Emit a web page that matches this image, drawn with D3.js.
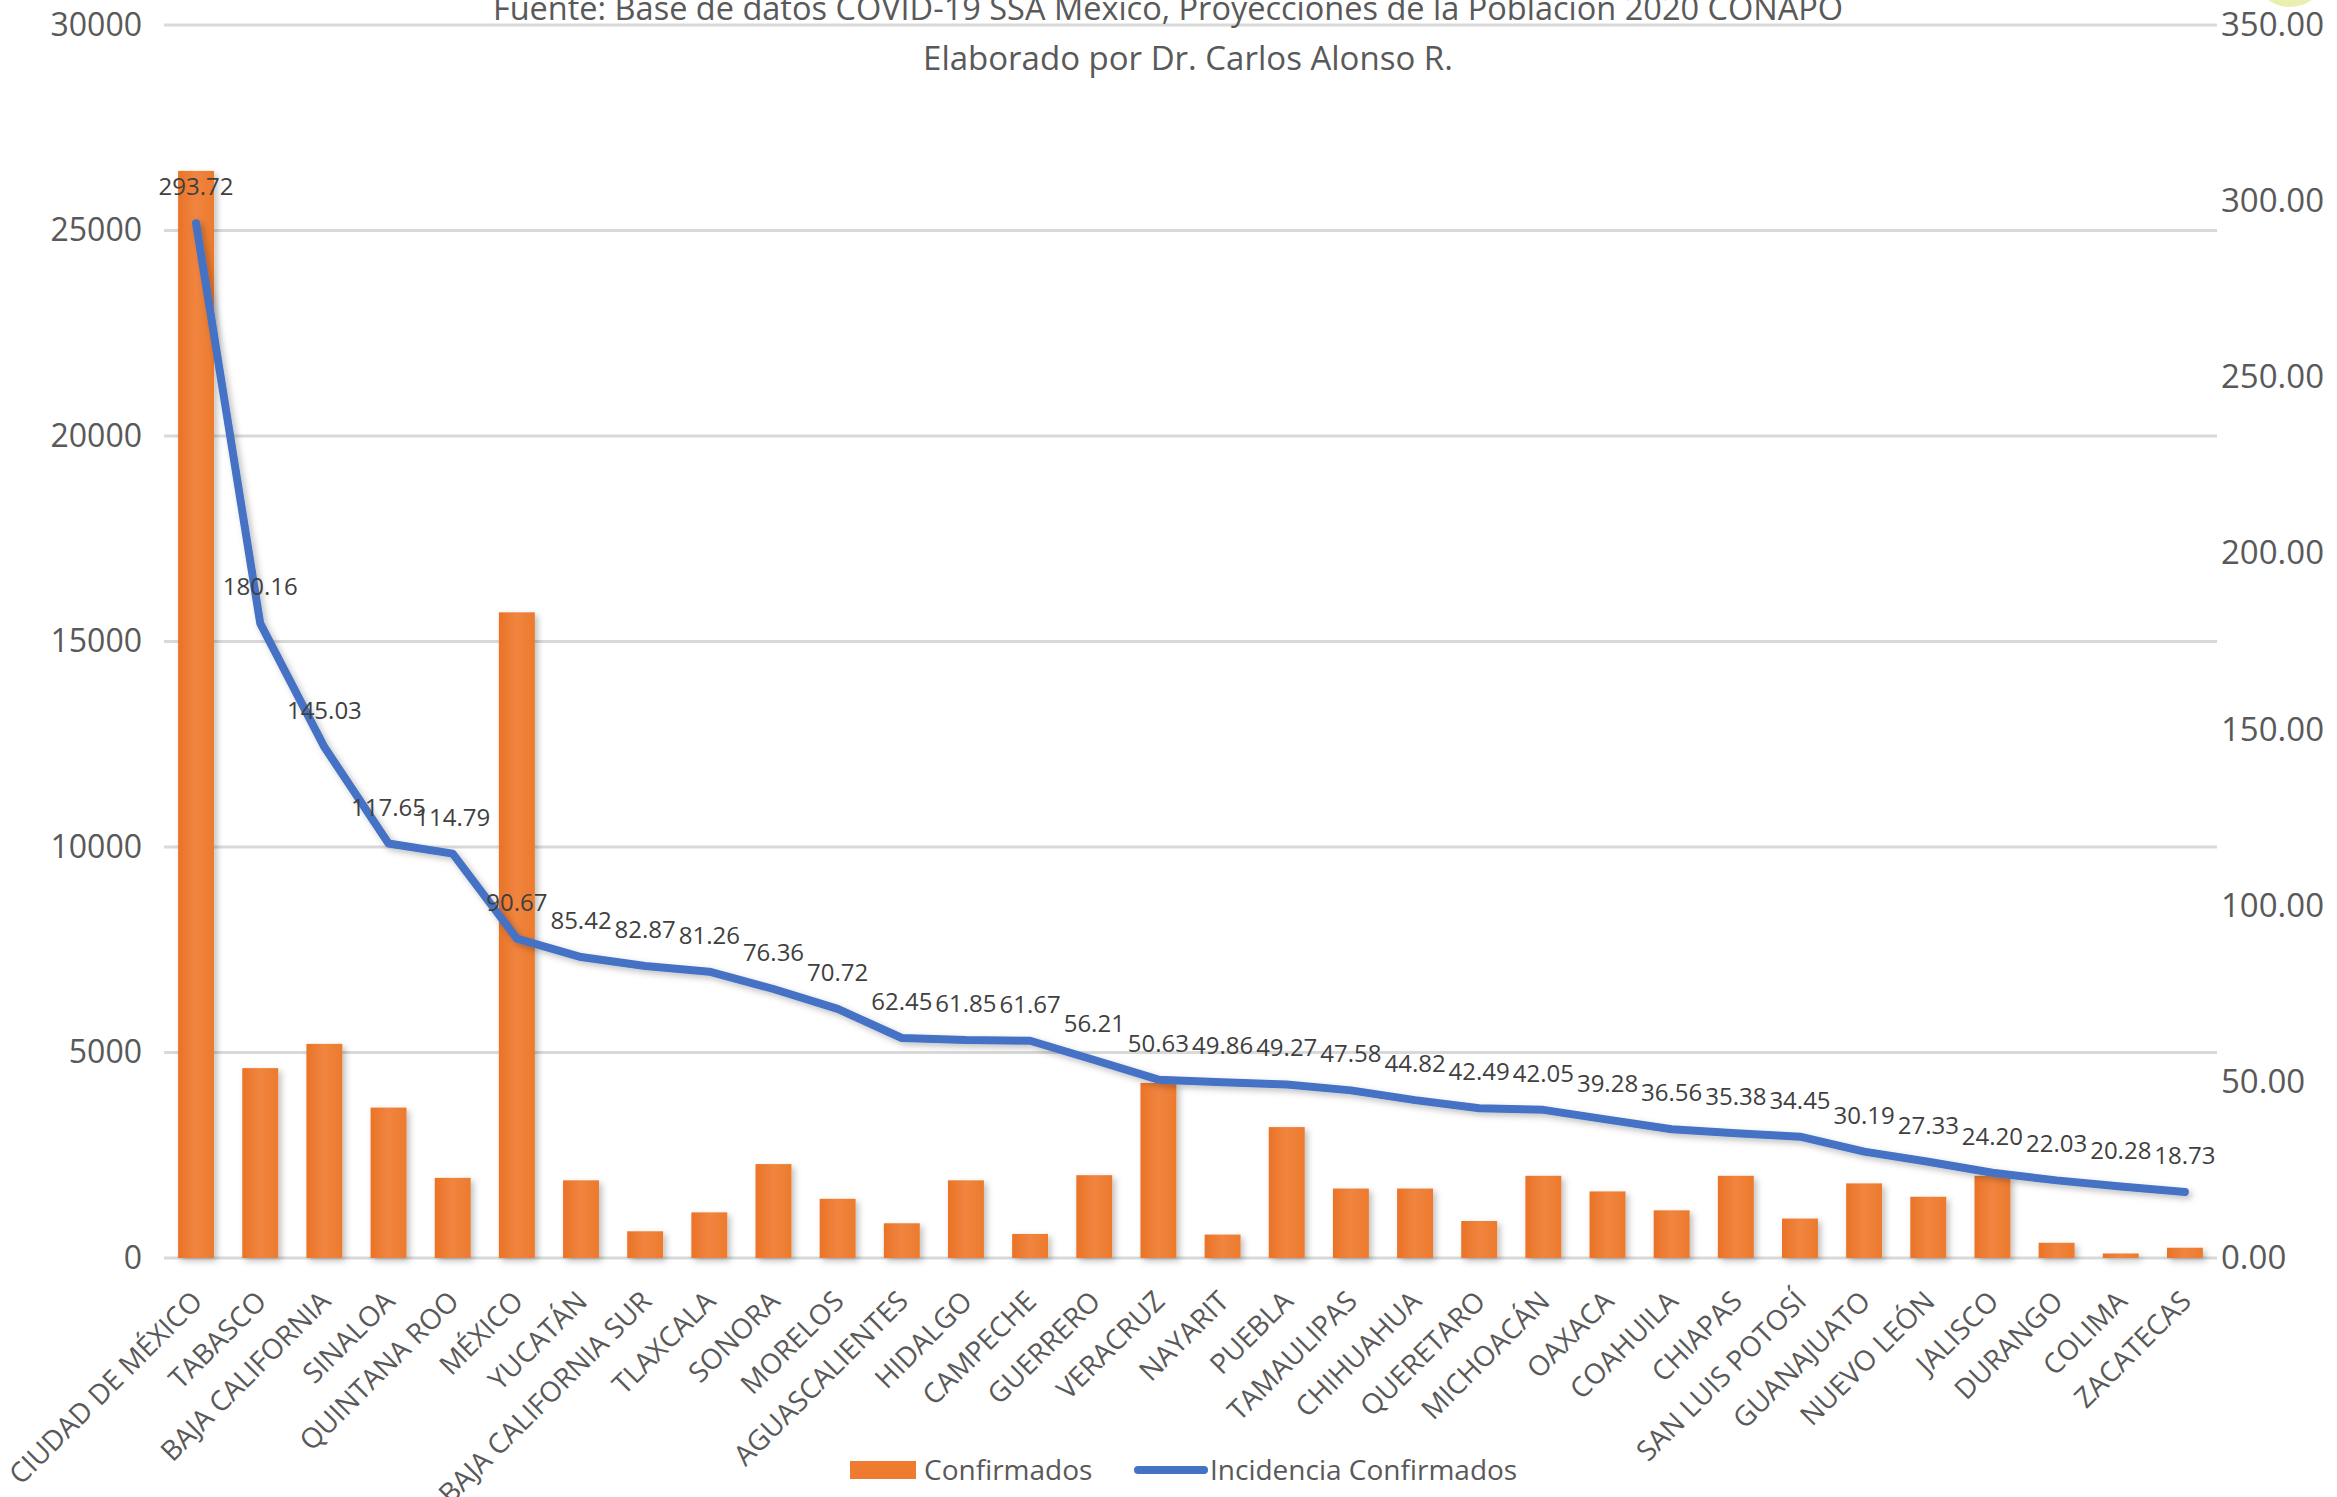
<!DOCTYPE html>
<html lang="es">
<head>
<meta charset="utf-8">
<title>Confirmados e incidencia por entidad</title>
<script src="https://cdn.jsdelivr.net/npm/d3@7"></script>
<style>
  html, body { margin: 0; padding: 0; background: #fff; }
  #chart { width: 2337px; height: 1497px; overflow: hidden; }
  text { font-family: "Open Sans", "DejaVu Sans", sans-serif; }
</style>
</head>
<body>
<div id="chart"></div>
<script>
const estados = [
  'CIUDAD DE MÉXICO', 'TABASCO', 'BAJA CALIFORNIA', 'SINALOA', 'QUINTANA ROO',
  'MÉXICO', 'YUCATÁN', 'BAJA CALIFORNIA SUR', 'TLAXCALA', 'SONORA', 'MORELOS',
  'AGUASCALIENTES', 'HIDALGO', 'CAMPECHE', 'GUERRERO', 'VERACRUZ', 'NAYARIT',
  'PUEBLA', 'TAMAULIPAS', 'CHIHUAHUA', 'QUERETARO', 'MICHOACÁN', 'OAXACA',
  'COAHUILA', 'CHIAPAS', 'SAN LUIS POTOSÍ', 'GUANAJUATO', 'NUEVO LEÓN',
  'JALISCO', 'DURANGO', 'COLIMA', 'ZACATECAS',
];

// casos confirmados (estimados de la gráfica)
const confirmados = [
  26450, 4620, 5210, 3660, 1950, 15710, 1890, 650, 1110, 2285, 1440,
  845, 1890, 585, 2015, 4260, 570, 3185, 1690, 1690, 900, 2000, 1620,
  1160, 2000, 960, 1815, 1490, 2000, 370, 110, 250,
];

// incidencia por 100 mil habitantes
const incidencia = [
  293.72, 180.16, 145.03, 117.65, 114.79, 90.67, 85.42, 82.87, 81.26, 76.36,
  70.72, 62.45, 61.85, 61.67, 56.21, 50.63, 49.86, 49.27, 47.58, 44.82,
  42.49, 42.05, 39.28, 36.56, 35.38, 34.45, 30.19, 27.33, 24.20, 22.03,
  20.28, 18.73,
];

const ticksIzq = [0, 5000, 10000, 15000, 20000, 25000, 30000];
const ticksDer = [0, 50, 100, 150, 200, 250, 300, 350];

const titulo = [
  'Fuente: Base de datos COVID-19 SSA México, Proyecciones de la Población 2020 CONAPO',
  'Elaborado por Dr. Carlos Alonso R.',
];

const leyenda = ['Confirmados', 'Incidencia Confirmados'];

const W = 2337, H = 1497;
const plot = { left: 164, right: 2217, top: 25, bottom: 1258 };
const ORANGE = '#EE7B2F';
const BLUE = '#4472C4';
const GRID = '#D9D9D9';
const TXT = '#595959';

const svg = d3.select('#chart').append('svg')
  .attr('width', W)
  .attr('height', H)
  .attr('viewBox', `0 0 ${W} ${H}`);

svg.append('rect').attr('width', W).attr('height', H).attr('fill', '#fff');

const defs = svg.append('defs');
const shadow = defs.append('filter').attr('id', 'sombra')
  .attr('x', '-20%').attr('y', '-20%').attr('width', '140%').attr('height', '140%');
shadow.append('feDropShadow')
  .attr('dx', 3).attr('dy', 3).attr('stdDeviation', 3)
  .attr('flood-color', '#000').attr('flood-opacity', 0.25);

const grad = defs.append('linearGradient').attr('id', 'barra')
  .attr('x1', 0).attr('x2', 1).attr('y1', 0).attr('y2', 0);
grad.append('stop').attr('offset', '0%').attr('stop-color', '#EA7327');
grad.append('stop').attr('offset', '50%').attr('stop-color', '#F08540');
grad.append('stop').attr('offset', '100%').attr('stop-color', '#EC7A2C');

// logo recortado arriba a la derecha
svg.append('circle')
  .attr('cx', 2290).attr('cy', -30).attr('r', 37)
  .attr('fill', '#E6EDA6').attr('opacity', 0.9);

const x = d3.scaleBand()
  .domain(estados)
  .range([plot.left, plot.right])
  .paddingInner(0.44)
  .paddingOuter(0.22);

const yL = d3.scaleLinear().domain([0, 30000]).range([plot.bottom, plot.top]);
const yR = d3.scaleLinear().domain([0, 350]).range([plot.bottom, plot.top]);

// cuadrícula
svg.append('g')
  .selectAll('line')
  .data(ticksIzq)
  .join('line')
  .attr('x1', plot.left)
  .attr('x2', plot.right)
  .attr('y1', d => yL(d))
  .attr('y2', d => yL(d))
  .attr('stroke', GRID)
  .attr('stroke-width', 3);

// eje izquierdo
const axL = svg.append('g')
  .attr('transform', `translate(${plot.left - 22},0)`)
  .call(d3.axisLeft(yL).tickValues(ticksIzq).tickSize(0).tickPadding(0).tickFormat(d3.format('d')));
axL.select('.domain').remove();
axL.selectAll('text')
  .attr('fill', TXT)
  .style('font-size', '32px');

// eje derecho
const axR = svg.append('g')
  .attr('transform', `translate(${plot.right + 4},0)`)
  .call(d3.axisRight(yR).tickValues(ticksDer).tickSize(0).tickPadding(0).tickFormat(d3.format('.2f')));
axR.select('.domain').remove();
axR.selectAll('text')
  .attr('fill', TXT)
  .style('font-size', '33px');

// barras
svg.append('g')
  .attr('filter', 'url(#sombra)')
  .selectAll('rect')
  .data(confirmados)
  .join('rect')
  .attr('x', (d, i) => x(estados[i]))
  .attr('width', x.bandwidth())
  .attr('y', d => yL(d))
  .attr('height', d => yL(0) - yL(d))
  .attr('fill', 'url(#barra)');

// línea de incidencia
const cx = i => x(estados[i]) + x.bandwidth() / 2;
const linea = d3.line()
  .x((d, i) => cx(i))
  .y(d => yR(d));

svg.append('path')
  .datum(incidencia)
  .attr('d', linea)
  .attr('fill', 'none')
  .attr('stroke', BLUE)
  .attr('stroke-width', 8)
  .attr('stroke-linejoin', 'round')
  .attr('stroke-linecap', 'round')
  .attr('filter', 'url(#sombra)');

// etiquetas de datos
svg.append('g')
  .selectAll('text')
  .data(incidencia)
  .join('text')
  .attr('x', (d, i) => cx(i))
  .attr('y', d => yR(d) - 28)
  .attr('text-anchor', 'middle')
  .attr('fill', '#404040')
  .style('font-size', '24px')
  .text(d => d3.format('.2f')(d));

// etiquetas de categoría
svg.append('g')
  .selectAll('text')
  .data(estados)
  .join('text')
  .attr('transform', (d, i) => `translate(${cx(i) + 8},${plot.bottom + 45}) rotate(-45)`)
  .attr('text-anchor', 'end')
  .attr('fill', TXT)
  .style('font-size', '28px')
  .text(d => d);

// título
svg.append('g')
  .selectAll('text')
  .data(titulo)
  .join('text')
  .attr('x', (d, i) => i === 0 ? 1168 : 1188)
  .attr('y', (d, i) => 20 + i * 50)
  .attr('text-anchor', 'middle')
  .attr('fill', TXT)
  .style('font-size', (d, i) => i === 0 ? '32.5px' : '33px')
  .text(d => d);

// leyenda
const ley = svg.append('g').attr('transform', 'translate(0,1470)');
ley.append('rect')
  .attr('x', 850).attr('y', -9).attr('width', 66).attr('height', 18)
  .attr('fill', ORANGE);
ley.append('text')
  .attr('x', 924).attr('y', 0).attr('dy', '0.35em')
  .attr('fill', TXT).style('font-size', '28px')
  .text(leyenda[0]);
ley.append('line')
  .attr('x1', 1138).attr('x2', 1204).attr('y1', 0).attr('y2', 0)
  .attr('stroke', BLUE).attr('stroke-width', 8).attr('stroke-linecap', 'round');
ley.append('text')
  .attr('x', 1210).attr('y', 0).attr('dy', '0.35em')
  .attr('fill', TXT).style('font-size', '28px')
  .text(leyenda[1]);
</script>
</body>
</html>
